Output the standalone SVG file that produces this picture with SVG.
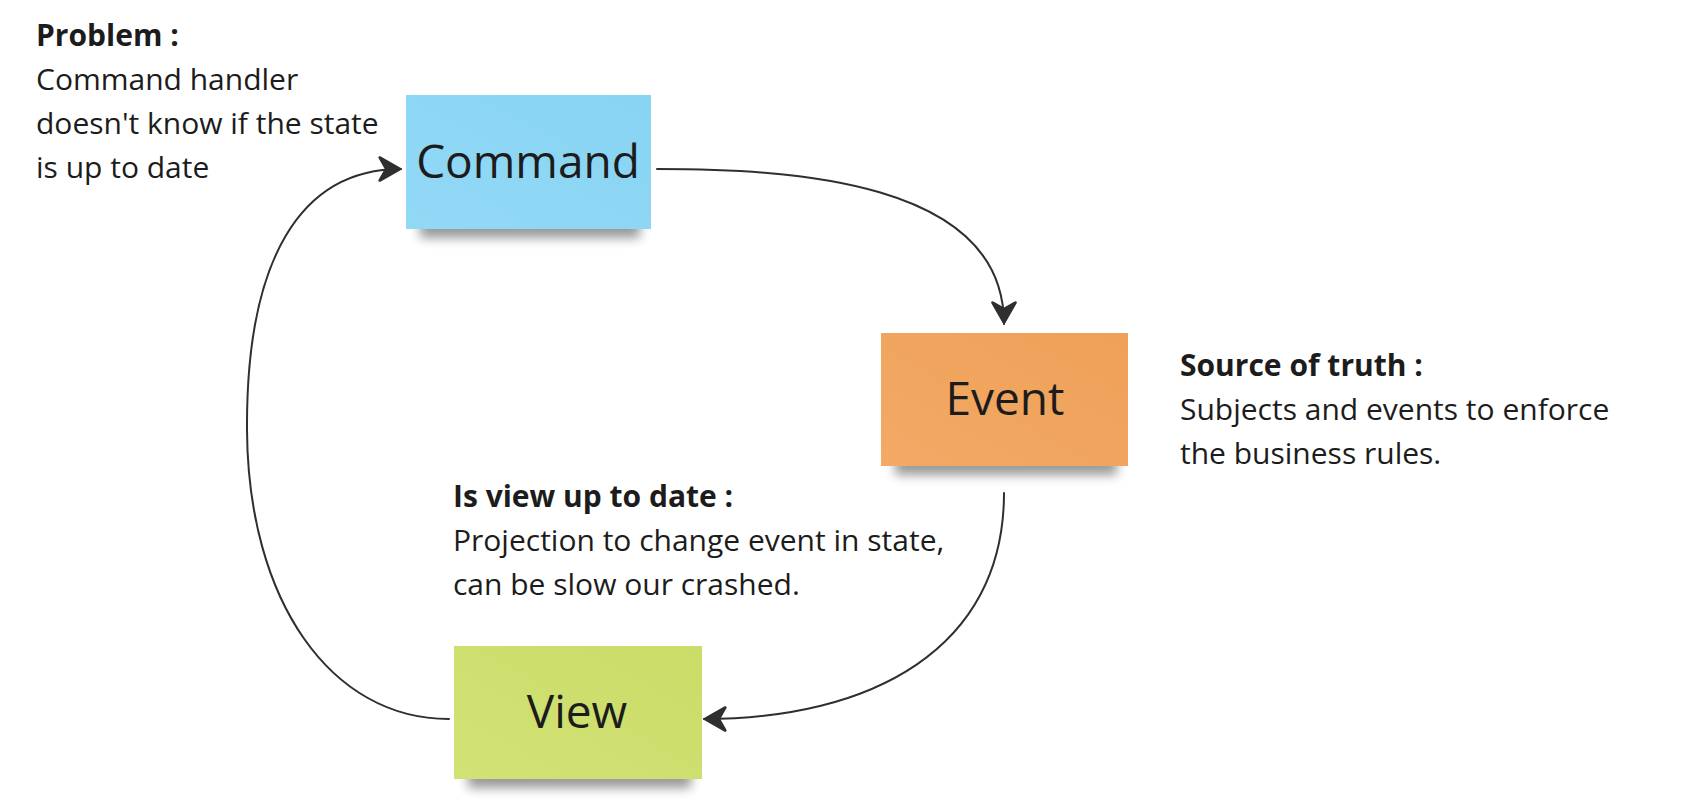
<svg xmlns="http://www.w3.org/2000/svg" width="1686" height="812" viewBox="0 0 1686 812">
<style>
.note-text{font-family:"Open Sans","Noto Sans","Liberation Sans",sans-serif;font-size:46px;fill:#1c1c1c;text-anchor:middle}
.txt{font-family:"Open Sans","Noto Sans","Liberation Sans",sans-serif;font-size:30px;fill:#1c1c1c}
.txt .b{font-weight:700}
.conn{fill:none;stroke:#2f2f2f;stroke-width:2;stroke-linecap:round}
.shadow{fill:#000;opacity:0.4;filter:url(#blur)}
</style>
<defs>
<filter id="blur" x="-20%" y="-100%" width="140%" height="300%"><feGaussianBlur stdDeviation="5.5"/></filter>
<marker id="arrow" viewBox="-23 -14 26 28" markerWidth="26" markerHeight="28" refX="0" refY="0" orient="auto" markerUnits="userSpaceOnUse">
<path d="M0,0 L-21,-12 Q-22.5,-12.5 -21.5,-10.5 L-15.5,0 L-21.5,10.5 Q-22.5,12.5 -21,12 Z" fill="#2f2f2f" stroke="#2f2f2f" stroke-width="1.5" stroke-linejoin="round"/>
</marker>
<linearGradient id="gBlue" x1="0" y1="1" x2="1" y2="0"><stop offset="0" stop-color="#92d9f6"/><stop offset="1" stop-color="#88d4f3"/></linearGradient>
<linearGradient id="gOrange" x1="0" y1="1" x2="1" y2="0"><stop offset="0" stop-color="#f2aa66"/><stop offset="1" stop-color="#efa058"/></linearGradient>
<linearGradient id="gGreen" x1="0" y1="1" x2="1" y2="0"><stop offset="0" stop-color="#d2e276"/><stop offset="1" stop-color="#cbdc68"/></linearGradient>
</defs>
<rect width="1686" height="812" fill="#ffffff"/>

<g id="connectors">
<path class="conn" d="M657 169 C790 169, 1004 180, 1004 324" marker-end="url(#arrow)"/>
<path class="conn" d="M1004 493 C1004 650, 870 719, 704 719" marker-end="url(#arrow)"/>
<path class="conn" d="M449 719 C330 719, 248 600, 247 430 C246 260, 300 169, 401 169" marker-end="url(#arrow)"/>
</g>

<g id="node-command">
<rect class="shadow" x="420" y="216" width="220" height="22"/>
<rect x="406" y="95" width="245" height="134" fill="url(#gBlue)"/>
<text class="note-text" x="528" y="178">Command</text>
</g>

<g id="node-event">
<rect class="shadow" x="895" y="453" width="222" height="22"/>
<rect x="881" y="333" width="247" height="133" fill="url(#gOrange)"/>
<text class="note-text" x="1005" y="415">Event</text>
</g>

<g id="node-view">
<rect class="shadow" x="468" y="766" width="223" height="22"/>
<rect x="454" y="646" width="248" height="133" fill="url(#gGreen)"/>
<text class="note-text" x="577" y="728">View</text>
</g>

<g id="note-problem">
<text class="txt" x="36" y="46"><tspan class="b">Problem :</tspan></text>
<text class="txt" x="36" y="90">Command handler</text>
<text class="txt" x="36" y="134">doesn't know if the state</text>
<text class="txt" x="36" y="178">is up to date</text>
</g>

<g id="note-source">
<text class="txt" x="1180" y="376"><tspan class="b">Source of truth :</tspan></text>
<text class="txt" x="1180" y="420">Subjects and events to enforce</text>
<text class="txt" x="1180" y="464">the business rules.</text>
</g>

<g id="note-view">
<text class="txt" x="453" y="507"><tspan class="b">Is view up to date :</tspan></text>
<text class="txt" x="453" y="551">Projection to change event in state,</text>
<text class="txt" x="453" y="595">can be slow our crashed.</text>
</g>
</svg>
